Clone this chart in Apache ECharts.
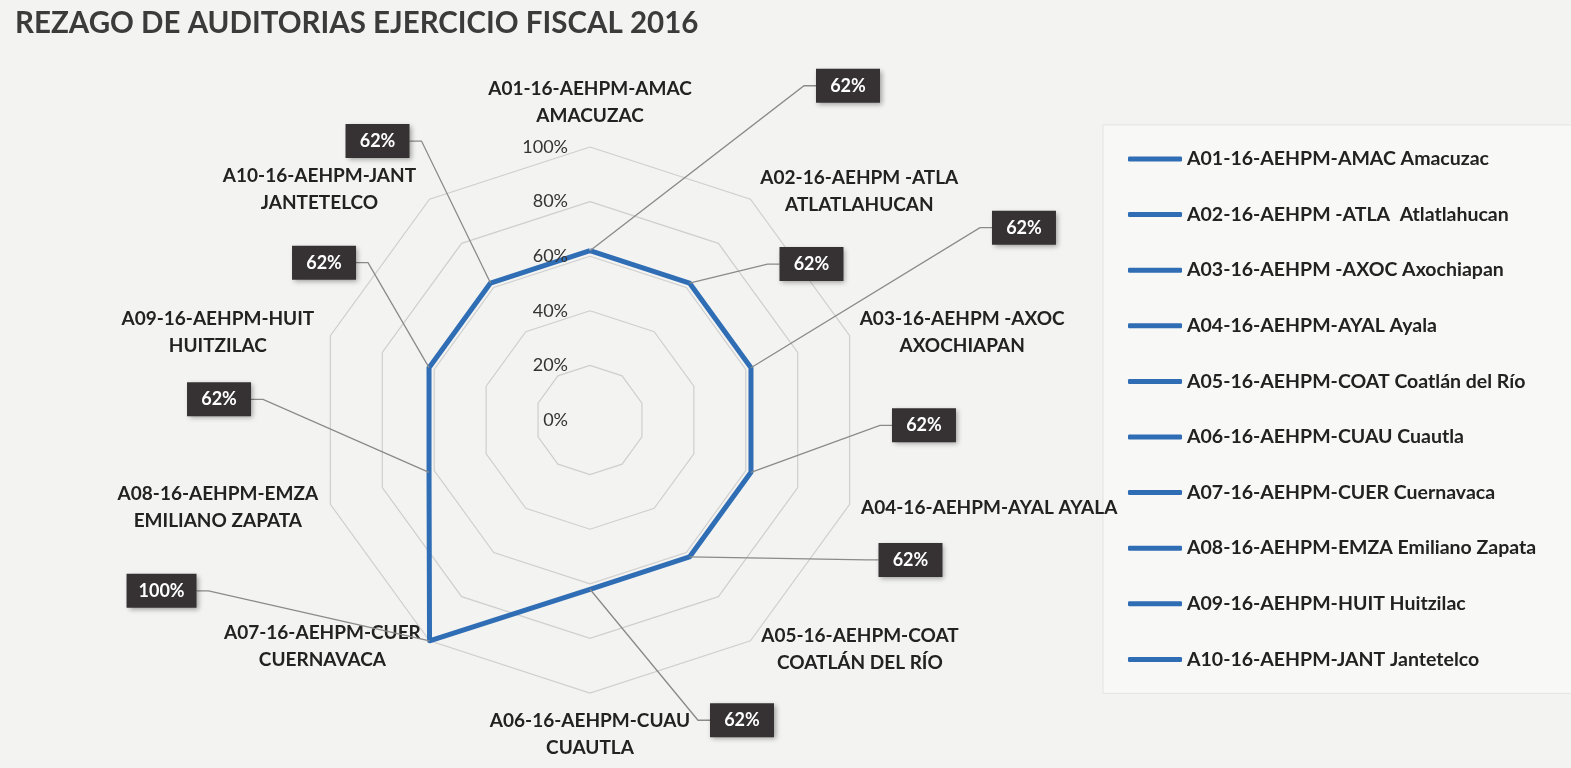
<!DOCTYPE html>
<html lang="es">
<head>
    <meta charset="UTF-8">
    <title>Rezago de auditorias ejercicio fiscal 2016</title>
    <script src="https://cdn.jsdelivr.net/npm/echarts@6/dist/echarts.min.js"></script>
    <style>
        html, body { margin: 0; padding: 0; background: #f3f3f1; }
        #main { width: 1571px; height: 768px; }
    </style>
</head>
<body>
    <div id="main"></div>
    <script>
        // ejes del radar (orden de Excel, en sentido horario desde arriba)
        const axisNames = [
            'A01-16-AEHPM-AMAC\nAMACUZAC',
            'A02-16-AEHPM -ATLA\nATLATLAHUCAN',
            'A03-16-AEHPM -AXOC\nAXOCHIAPAN',
            'A04-16-AEHPM-AYAL AYALA',
            'A05-16-AEHPM-COAT\nCOATLÁN DEL RÍO',
            'A06-16-AEHPM-CUAU\nCUAUTLA',
            'A07-16-AEHPM-CUER\nCUERNAVACA',
            'A08-16-AEHPM-EMZA\nEMILIANO ZAPATA',
            'A09-16-AEHPM-HUIT\nHUITZILAC',
            'A10-16-AEHPM-JANT\nJANTETELCO'
        ];
        const legendNames = [
            'A01-16-AEHPM-AMAC Amacuzac',
            'A02-16-AEHPM -ATLA  Atlatlahucan',
            'A03-16-AEHPM -AXOC Axochiapan',
            'A04-16-AEHPM-AYAL Ayala',
            'A05-16-AEHPM-COAT Coatlán del Río',
            'A06-16-AEHPM-CUAU Cuautla',
            'A07-16-AEHPM-CUER Cuernavaca',
            'A08-16-AEHPM-EMZA Emiliano Zapata',
            'A09-16-AEHPM-HUIT Huitzilac',
            'A10-16-AEHPM-JANT Jantetelco'
        ];
        // porcentaje de rezago
        const rezago = [62, 62, 62, 62, 62, 62, 100, 62, 62, 62];

        // posicion de cada etiqueta respecto a su punto (px) y separacion del nombre
        const labelOffsets = [
            [258, -165], [122, -19], [273, -140], [173, -47], [221, 3],
            [152, 131], [-268, -50], [-210, -73], [-105, -105], [-113, -142]
        ];
        const nameGaps = [18, 10, 10, 12, 11, 14, 7, 10, 10, 12];

        const CENTER = [590, 420];
        const RADIUS = 273;
        const BLUE = '#2f6db5';
        const FONT = 'Lato, "DejaVu Sans", sans-serif';

        // echarts dibuja el radar en sentido antihorario: se invierte el orden
        const order = [0, 9, 8, 7, 6, 5, 4, 3, 2, 1];

        const indicators = order.map((i, k) => {
            const ind = { name: axisNames[i], min: 0, max: 100, nameGap: nameGaps[i] };
            if (k === 0) ind.axisLabel = { show: true };
            return ind;
        });

        const labelSeries = legendNames.map((name, i) => ({
            name: name,
            type: 'custom',
            coordinateSystem: 'polar',
            itemStyle: { color: BLUE },
            z: 5,
            data: [[rezago[i], i]],
            renderItem: (params, api) => {
                const v = api.value(0);
                const idx = api.value(1);
                const p = api.coord([v, idx * 36]);
                const off = labelOffsets[idx];
                const bx = p[0] + off[0];
                const by = p[1] + off[1];
                const text = v + '%';
                const w = text.length > 3 ? 70 : 64;
                const h = 34;
                const side = off[0] >= 0 ? -1 : 1;
                const edgeX = bx + side * w / 2;
                const elbowX = edgeX + side * 12;
                return {
                    type: 'group',
                    children: [
                        {
                            type: 'polyline',
                            shape: { points: [p, [elbowX, by], [edgeX, by]] },
                            style: { stroke: '#8a8a8a', lineWidth: 1.3, fill: null }
                        },
                        {
                            type: 'rect',
                            shape: { x: bx - w / 2, y: by - h / 2, width: w, height: h },
                            style: {
                                fill: '#363233',
                                shadowBlur: 5, shadowColor: 'rgba(0,0,0,0.35)',
                                shadowOffsetX: 2, shadowOffsetY: 2
                            }
                        },
                        {
                            type: 'text',
                            x: bx, y: by,
                            style: {
                                text: text, fill: '#ffffff',
                                font: 'bold 18px ' + FONT,
                                align: 'center', verticalAlign: 'middle'
                            }
                        }
                    ]
                };
            }
        }));

        const chart = echarts.init(document.getElementById('main'));
        chart.setOption({
            animation: false,
            backgroundColor: '#f3f3f1',
            title: {
                text: 'REZAGO DE AUDITORIAS EJERCICIO FISCAL 2016',
                left: 10, top: 3,
                textStyle: { fontFamily: FONT, fontSize: 29.5, fontWeight: 'bold', color: '#3b3b3b' }
            },
            legend: {
                data: legendNames,
                orient: 'vertical',
                left: 1103, top: 125,
                z: 1,
                padding: [24, 40, 24, 25],
                backgroundColor: '#f8f8f6',
                borderColor: '#e3e3e3', borderWidth: 1,
                icon: 'roundRect',
                itemWidth: 54, itemHeight: 5,
                itemGap: 35.6,
                textStyle: { fontFamily: FONT, fontSize: 19.5, fontWeight: 'bold', color: '#222', lineHeight: 20 }
            },
            radar: {
                center: CENTER,
                radius: RADIUS,
                shape: 'polygon',
                splitNumber: 5,
                z: 3,
                indicator: indicators,
                axisLine: { show: false },
                axisTick: { show: false },
                splitArea: { show: false },
                splitLine: { lineStyle: { color: '#cfcfcf', width: 1.2 } },
                axisLabel: {
                    show: false,
                    formatter: '{value}%',
                    color: '#333', fontFamily: FONT, fontSize: 18, margin: 22
                },
                axisName: {
                    color: '#222',
                    fontFamily: FONT, fontSize: 19, fontWeight: 'bold',
                    lineHeight: 27,
                    formatter: (name) => name.indexOf('\n') < 0 ? name :
                        name.split('\n').map(s => '{n|' + s + '}').join('\n'),
                    rich: {
                        n: {
                            width: 206, align: 'center', lineHeight: 27,
                            fontFamily: FONT, fontSize: 19, fontWeight: 'bold', color: '#222'
                        }
                    }
                }
            },
            polar: { center: CENTER, radius: RADIUS },
            angleAxis: { type: 'value', min: 0, max: 360, startAngle: 90, clockwise: true, show: false },
            radiusAxis: { type: 'value', min: 0, max: 100, show: false },
            series: [
                {
                    name: 'Rezago',
                    type: 'radar',
                    symbol: 'none',
                    z: 3,
                    lineStyle: { color: BLUE, width: 5 },
                    itemStyle: { color: BLUE },
                    data: [{ name: 'Rezago', value: order.map(i => rezago[i]) }]
                }
            ].concat(labelSeries)
        });
    </script>
</body>
</html>
